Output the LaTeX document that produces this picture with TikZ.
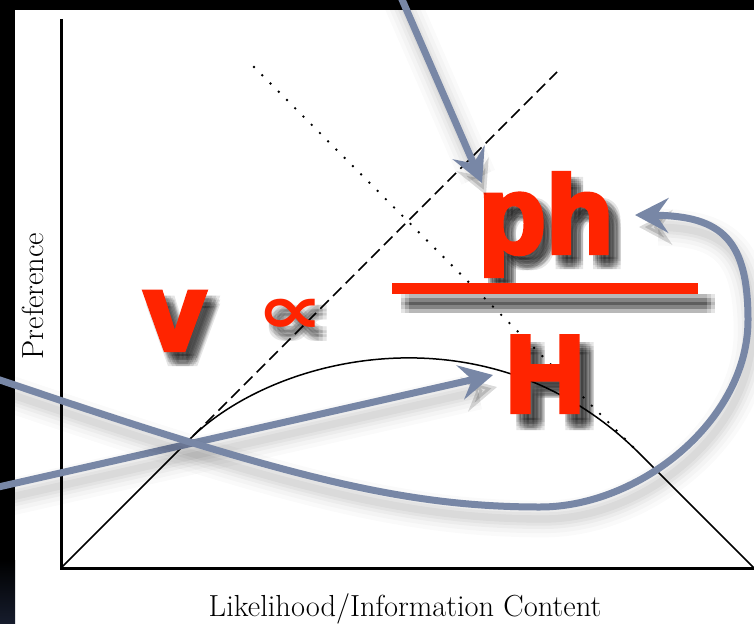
\documentclass[tikz,border=0pt]{standalone}
\usepackage{fontspec}
\usetikzlibrary{arrows.meta,calc}
\newfontfamily\heavyfont[FakeBold=4]{Liberation Sans Bold}
\newfontfamily\symbfont{DejaVu Sans Bold}
\definecolor{myred}{RGB}{255,36,0}
\definecolor{myslate}{RGB}{120,135,166}
\definecolor{mynavy}{RGB}{22,28,44}

\begin{document}
\begin{tikzpicture}[x=0.3mm,y=-0.3mm,every node/.style={inner sep=0pt},
  axisline/.style={line width=0.9mm},
  hump/.style={line width=0.45mm},
  glyph/.style={text=myred,font=\heavyfont\fontsize{94}{94}\selectfont,anchor=base},
  propsym/.style={text=myred,font=\symbfont\fontsize{58}{58}\selectfont},
  shadecopy/.style={text=black,opacity=0.1},
  axislabel/.style={font=\fontsize{26}{26}\selectfont,anchor=base},
  pointer/.style={draw=myslate,line width=2.1mm,-{Stealth[length=10mm,width=10.4mm,inset=3.6mm]},
    preaction={draw=black,opacity=0.02,line width=11mm,transform canvas={shift={(4,12)}}},
    preaction={draw=black,opacity=0.025,line width=8.5mm,transform canvas={shift={(4,12)}}},
    preaction={draw=black,opacity=0.03,line width=6mm,transform canvas={shift={(4,12)}}},
    preaction={draw=black,opacity=0.035,line width=4mm,transform canvas={shift={(4,12)}}},
    preaction={draw=black,opacity=0.04,line width=2.2mm,transform canvas={shift={(4,12)}}}}]
\useasboundingbox (0,0) rectangle (754,623);
% frame
\fill[black] (0,0) rectangle (754,623);
\fill[white] (15,10) rectangle (754,623);
\shade[top color=black,bottom color=mynavy] (0,560) rectangle (15,623);
% axes and curve
\coordinate (O) at (61,568);
\draw[axisline] (61,19) -- (O) -- (754,568);
\draw[hump] (O) -- (190,439) .. controls (275,354) and (490,304) .. (640,454) -- (754,568);
\draw[line width=0.45mm,dash pattern=on 3.6mm off 1.8mm] (193,436) -- (557,72); % rising asymptote
\draw[line width=0.8mm,line cap=round,dash pattern=on 0mm off 3.5mm] (254,67) -- (640,454); % falling asymptote
\node[axislabel,rotate=90] (ylab) at (43,296) {Preference};
\node[axislabel] (xlab) at (405,616) {Likelihood/Information Content};
% soft shadows of the formula
\foreach \dx in {-4,0,4}{
  \foreach \dy in {-4,0,4}{
    \begin{scope}[shift={(\dx,\dy)}]
      \node[glyph,shadecopy] (vsh) at (183,360) {v};
      \node[propsym,shadecopy] (propsh) at (298,326) {\scalebox{1.4}[1]{∝}};
      \node[glyph,shadecopy] (phsh) at (554,263) {ph};
      \node[glyph,shadecopy] (Hsh) at (555,424) {H};
      \fill[shadecopy] (405,298) rectangle (711,309);
    \end{scope}
  }
}
% formula
\node[glyph] (v) at (175,350) {v};
\node[propsym] (prop) at (290,316) {\scalebox{1.4}[1]{∝}};
\node[glyph] (ph) at (546,253) {ph};
\fill[myred] (392,283) rectangle (698,294);
\node[glyph] (H) at (545,412) {H};
% pointers
\coordinate (srcTop) at (397,-12);
\coordinate (tipPh) at (482,183);
\coordinate (srcLow) at (-6,488);
\coordinate (tipH) at (493,375);
\coordinate (srcMid) at (-6,378);
\coordinate (tipLoop) at (635,215);
\draw[pointer] (srcTop) -- (tipPh);
\draw[pointer] (srcLow) -- (tipH);
\draw[pointer] (srcMid) .. controls (280,475) and (400,507) .. (540,507)
  .. controls (640,507) and (748,420) .. (748,320)
  .. controls (748,240) and (722,216) .. (tipLoop);
\end{tikzpicture}
\end{document}
